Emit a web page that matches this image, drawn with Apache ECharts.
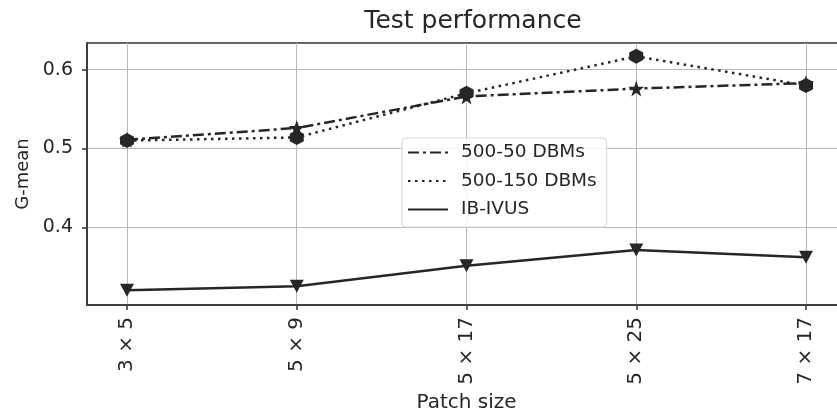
<!DOCTYPE html>
<html>
<head>
<meta charset="utf-8">
<script src="https://cdn.jsdelivr.net/npm/echarts@6/dist/echarts.min.js"></script>
<style>
  html, body { margin: 0; padding: 0; background: #fff; }
  #chart { width: 837px; height: 412px; }
</style>
</head>
<body>
<div id="chart"></div>
<script>
const categories = ["3 × 5", "5 × 9", "5 × 17", "5 × 25", "7 × 17"];
const dbm50 = [0.511, 0.526, 0.566, 0.576, 0.583];
const dbm150 = [0.510, 0.514, 0.570, 0.617, 0.580];
const ibivus = [0.320, 0.325, 0.351, 0.371, 0.362];
const yTicks = [0.4, 0.5, 0.6];

const ink = "#262626";
const starPath = "path://M50 0 L61.8 34.5 L97.6 34.5 L68.8 55.9 L79.4 90.5 L50 69.1 L20.6 90.5 L31.2 55.9 L2.4 34.5 L38.2 34.5 Z";
const hexPath = "path://M50 0 L93.3 25 L93.3 75 L50 100 L6.7 75 L6.7 25 Z";

let pairs = arr => arr.map((v, i) => [i, v]);

let myChart = echarts.init(document.getElementById("chart"));
let option = {
  animation: false,
  textStyle: { fontFamily: "DejaVu Sans", color: ink },
  title: {
    text: "Test performance",
    left: 468,
    textAlign: "center",
    top: 4,
    textStyle: { fontSize: 25, fontWeight: "normal", color: ink, fontFamily: "DejaVu Sans" }
  },
  grid: {
    left: 87,
    right: -9,
    top: 43,
    bottom: 107,
    show: true,
    borderColor: "#333",
    borderWidth: 1.5,
    containLabel: false,
    outerBoundsMode: "none"
  },
  legend: {
    orient: "vertical",
    left: 402,
    top: 138,
    padding: [5, 10, 8, 5],
    itemWidth: 40,
    itemHeight: 12,
    itemGap: 9.5,
    backgroundColor: "rgba(255,255,255,0.85)",
    borderColor: "#d6d6d6",
    borderWidth: 1,
    borderRadius: 4,
    itemStyle: { color: "rgba(0,0,0,0)", borderWidth: 0 },
    textStyle: { fontSize: 18.5, color: ink, fontFamily: "DejaVu Sans", padding: [0, 0, 0, 8] },
    data: ["500-50 DBMs", "500-150 DBMs", "IB-IVUS"]
  },
  xAxis: {
    type: "value",
    min: -0.2356,
    max: 4.2356,
    name: "Patch size",
    nameLocation: "middle",
    nameGap: 88,
    nameTextStyle: { fontSize: 20, color: ink },
    axisLine: { show: true, onZero: false, lineStyle: { color: "#333", width: 1.5 } },
    axisTick: { show: true, length: 5, customValues: [0, 1, 2, 3, 4], lineStyle: { color: "#333", width: 1.5 } },
    axisLabel: {
      customValues: [0, 1, 2, 3, 4],
      rotate: 90,
      margin: 12,
      fontSize: 20,
      color: ink,
      formatter: v => categories[Math.round(v)]
    },
    splitLine: { show: true, lineStyle: { color: "#b8b8b8", width: 1 } }
  },
  yAxis: {
    type: "value",
    min: 0.3013,
    max: 0.6339,
    name: "G-mean",
    nameLocation: "middle",
    nameGap: 54,
    nameRotate: 90,
    nameTextStyle: { fontSize: 18, color: ink },
    axisLine: { show: true, onZero: false, lineStyle: { color: "#333", width: 1.5 } },
    axisTick: { show: true, length: 5, customValues: yTicks, lineStyle: { color: "#333", width: 1.5 } },
    axisLabel: {
      customValues: yTicks,
      margin: 14,
      fontSize: 19,
      color: ink,
      formatter: v => v.toFixed(1)
    },
    splitLine: { show: true, lineStyle: { color: "#b8b8b8", width: 1 } }
  },
  series: [
    {
      name: "500-50 DBMs",
      type: "line",
      data: pairs(dbm50),
      symbol: starPath,
      symbolSize: 16,
      itemStyle: { color: ink },
      lineStyle: { color: ink, width: 2.5, type: [11, 4, 3, 4] },
      z: 3
    },
    {
      name: "500-150 DBMs",
      type: "line",
      data: pairs(dbm150),
      symbol: hexPath,
      symbolSize: [14, 15],
      itemStyle: { color: ink },
      lineStyle: { color: ink, width: 2.5, type: [2.5, 4.5] },
      z: 4
    },
    {
      name: "IB-IVUS",
      type: "line",
      data: pairs(ibivus),
      symbol: "triangle",
      symbolRotate: 180,
      symbolSize: [14, 13],
      itemStyle: { color: ink },
      lineStyle: { color: ink, width: 2.5 },
      z: 3
    }
  ]
};
myChart.setOption(option, true);

window.addEventListener("resize", () => {
  myChart.resize();
});
</script>
</body>
</html>
